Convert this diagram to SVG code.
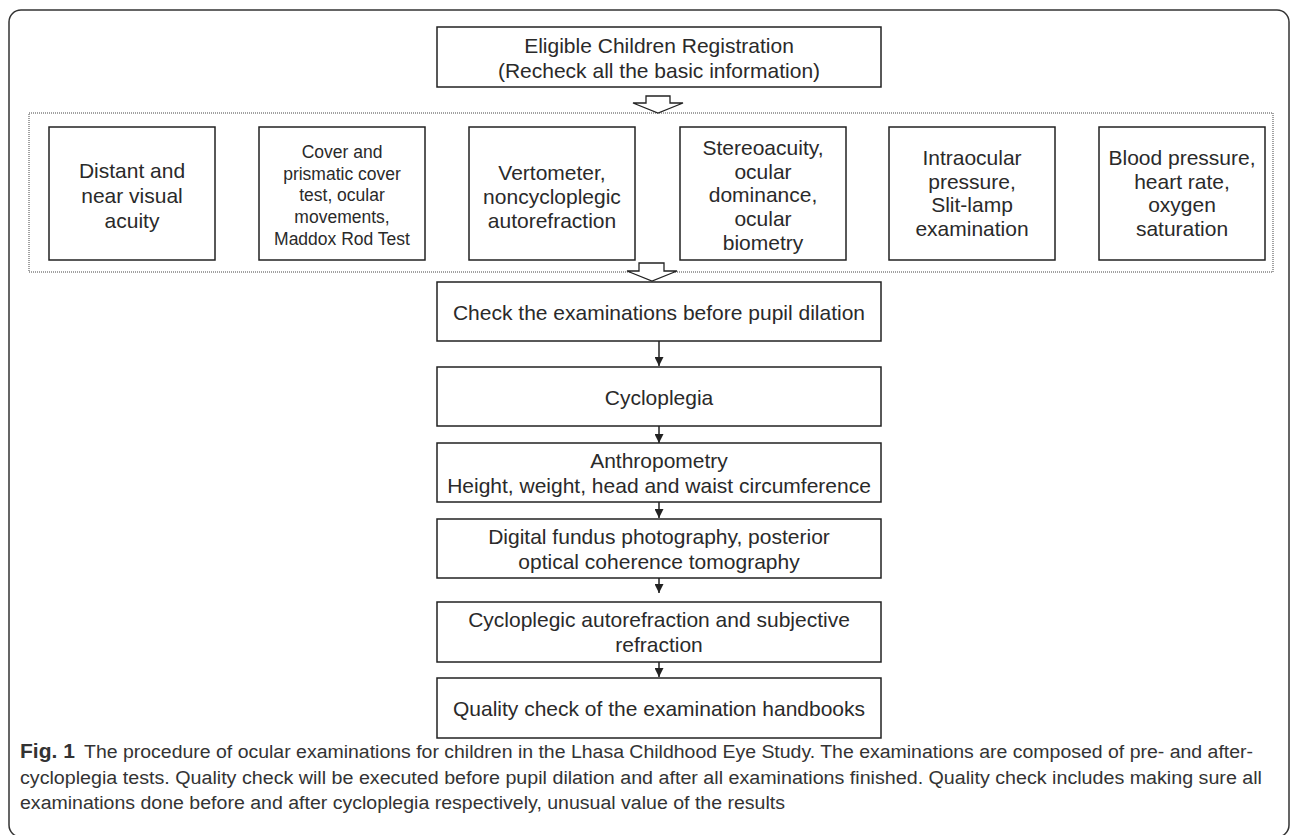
<svg xmlns="http://www.w3.org/2000/svg" width="1290" height="835" viewBox="0 0 1290 835">
<style>
.box{fill:#fff;stroke:#222;stroke-width:1.5}
.t{font-family:"Liberation Sans",Arial,sans-serif;font-size:21px;fill:#2a2a2a;text-anchor:middle}
.s{font-size:17.5px}
.cap{font-family:"Liberation Sans",Arial,sans-serif;font-size:18px;fill:#333}
.capb{font-family:"Liberation Sans",Arial,sans-serif;font-size:21px;font-weight:bold;fill:#333}
.ln{stroke:#222;stroke-width:1.5;fill:none}
.hollow{fill:#fff;stroke:#222;stroke-width:1.3}
</style>
<defs>
<marker id="ah" markerWidth="9" markerHeight="9" refX="9" refY="4.5" orient="auto" markerUnits="userSpaceOnUse">
<path d="M0,0 L9,4.5 L0,9 Z" fill="#222"/>
</marker>
</defs>
<rect x="9" y="10" width="1280" height="827" rx="12" ry="12" fill="none" stroke="#333" stroke-width="1.5"/>
<rect x="29" y="113" width="1244" height="159" fill="none" stroke="#444" stroke-width="1" stroke-dasharray="1,1"/>

<g id="n-registration">
<rect class="box" x="437" y="27" width="444" height="60"/>
<text class="t" x="659" y="53">Eligible Children Registration</text>
<text class="t" x="659" y="78">(Recheck all the basic information)</text>
</g>

<g id="n-visual">
<rect class="box" x="49" y="127" width="166" height="133"/>
<text class="t" x="132" y="178">Distant and</text>
<text class="t" x="132" y="203">near visual</text>
<text class="t" x="132" y="228">acuity</text>
</g>
<g id="n-cover">
<rect class="box" x="259" y="127" width="166" height="133"/>
<text class="t s" x="342" y="158">Cover and</text>
<text class="t s" x="342" y="180">prismatic cover</text>
<text class="t s" x="342" y="201">test, ocular</text>
<text class="t s" x="342" y="223">movements,</text>
<text class="t s" x="342" y="245">Maddox Rod Test</text>
</g>
<g id="n-vertometer">
<rect class="box" x="469" y="127" width="166" height="133"/>
<text class="t" x="552" y="180">Vertometer,</text>
<text class="t" x="552" y="204">noncycloplegic</text>
<text class="t" x="552" y="228">autorefraction</text>
</g>
<g id="n-stereo">
<rect class="box" x="680" y="127" width="166" height="133"/>
<text class="t" x="763" y="155">Stereoacuity,</text>
<text class="t" x="763" y="179">ocular</text>
<text class="t" x="763" y="202">dominance,</text>
<text class="t" x="763" y="226">ocular</text>
<text class="t" x="763" y="250">biometry</text>
</g>
<g id="n-iop">
<rect class="box" x="889" y="127" width="166" height="133"/>
<text class="t" x="972" y="165">Intraocular</text>
<text class="t" x="972" y="189">pressure,</text>
<text class="t" x="972" y="212">Slit-lamp</text>
<text class="t" x="972" y="236">examination</text>
</g>
<g id="n-blood">
<rect class="box" x="1099" y="127" width="166" height="133"/>
<text class="t" x="1182" y="165">Blood pressure,</text>
<text class="t" x="1182" y="189">heart rate,</text>
<text class="t" x="1182" y="212">oxygen</text>
<text class="t" x="1182" y="236">saturation</text>
</g>

<g id="n-check">
<rect class="box" x="437" y="282" width="444" height="59"/>
<text class="t" x="659" y="320">Check the examinations before pupil dilation</text>
</g>
<g id="n-cycloplegia">
<rect class="box" x="437" y="367" width="444" height="59"/>
<text class="t" x="659" y="405">Cycloplegia</text>
</g>
<g id="n-anthro">
<rect class="box" x="437" y="443" width="444" height="59"/>
<text class="t" x="659" y="468">Anthropometry</text>
<text class="t" x="659" y="493">Height, weight, head and waist circumference</text>
</g>
<g id="n-fundus">
<rect class="box" x="437" y="519" width="444" height="59"/>
<text class="t" x="659" y="544">Digital fundus photography, posterior</text>
<text class="t" x="659" y="569">optical coherence tomography</text>
</g>
<g id="n-refraction">
<rect class="box" x="437" y="602" width="444" height="60"/>
<text class="t" x="659" y="627">Cycloplegic autorefraction and subjective</text>
<text class="t" x="659" y="652">refraction</text>
</g>
<g id="n-quality">
<rect class="box" x="437" y="678" width="444" height="60"/>
<text class="t" x="659" y="716">Quality check of the examination handbooks</text>
</g>

<g id="connectors">
<polygon class="hollow" points="646,96 670,96 670,103 683,103 658,113 633,103 646,103"/>
<polygon class="hollow" points="639,263 664,263 664,271 677,271 652,281 627,271 639,271"/>
<line class="ln" x1="659" y1="341" x2="659" y2="366" marker-end="url(#ah)"/>
<line class="ln" x1="659" y1="426" x2="659" y2="443" marker-end="url(#ah)"/>
<line class="ln" x1="659" y1="502" x2="659" y2="518" marker-end="url(#ah)"/>
<line class="ln" x1="659" y1="578" x2="659" y2="593" marker-end="url(#ah)"/>
<line class="ln" x1="659" y1="662" x2="659" y2="677" marker-end="url(#ah)"/>
</g>

<g id="caption">
<text class="capb" x="20" y="758">Fig. 1</text>
<text class="cap" x="84" y="758" textLength="1169" lengthAdjust="spacingAndGlyphs">The procedure of ocular examinations for children in the Lhasa Childhood Eye Study. The examinations are composed of pre- and after-</text>
<text class="cap" x="20" y="784" textLength="1242" lengthAdjust="spacingAndGlyphs">cycloplegia tests. Quality check will be executed before pupil dilation and after all examinations finished. Quality check includes making sure all</text>
<text class="cap" x="20" y="809" textLength="765" lengthAdjust="spacingAndGlyphs">examinations done before and after cycloplegia respectively, unusual value of the results</text>
</g>
</svg>
